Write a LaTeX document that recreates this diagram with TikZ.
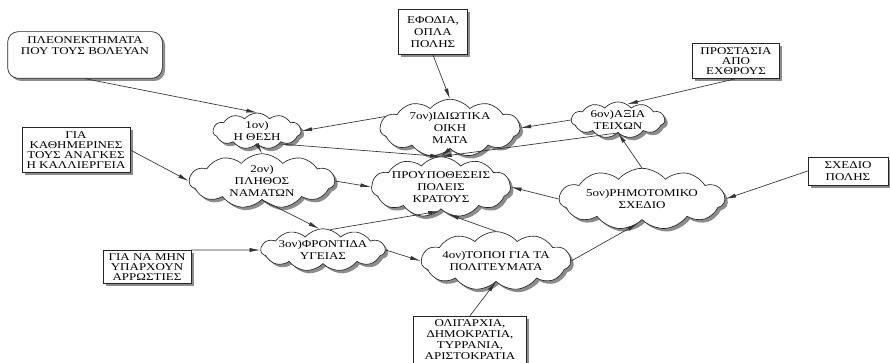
\documentclass[tikz,border=0pt]{standalone}
\usepackage{fontspec}
\setmainfont[FakeStretch=1.25]{Liberation Serif}
\usetikzlibrary{shapes.symbols,shadows,arrows.meta}

\tikzset{every picture/.style={line width=0.5pt}}
\tikzset{
  idea/.style={cloud, cloud puffs=11, cloud puff arc=100, cloud ignores aspect, draw=black!85, fill=white,
    inner sep=0pt, align=center, font=\fontsize{7.8}{9}\selectfont,
    drop shadow={shadow xshift=2.2pt, shadow yshift=-2.2pt, fill=black!45, opacity=1}},
  note/.style={rectangle, draw=black!85, fill=white, inner sep=1pt, align=center, font=\fontsize{7.8}{8.5}\selectfont,
    drop shadow={shadow xshift=2pt, shadow yshift=-2pt, fill=black!45, opacity=1}},
  link/.style={draw=black!80, -{Latex[length=8pt,width=3pt]}}
}

\begin{document}
\begin{tikzpicture}[x=0.75pt,y=0.75pt,yscale=-1,xscale=1]
\useasboundingbox (0,0) rectangle (890,363);

% Clouds
\node [idea, minimum width=66pt, minimum height=27pt] (thesi) at (257,131) {1ον)\\Η ΘΕΣΗ};
\node [idea, minimum width=105pt, minimum height=38pt] (oikimata) at (450,128) {7ον)ΙΔΙΩΤΙΚΑ\\ΟΙΚΗ\\ΜΑΤΑ};
\node [idea, minimum width=70pt, minimum height=23pt] (teixi) at (618,120) {6ον)ΑΞΙΑ\\ΤΕΙΧΩΝ};
\node [idea, minimum width=109pt, minimum height=36pt] (namata) at (262,181) {2ον)\\ΠΛΗΘΟΣ\\ΝΑΜΑΤΩΝ};
\node [idea, minimum width=104pt, minimum height=36pt] (proypo) at (441,187) {ΠΡΟΥΠΟΘΕΣΕΙΣ\\ΠΟΛΕΙΣ\\ΚΡΑΤΟΥΣ};
\node [idea, minimum width=124pt, minimum height=46pt] (sxedio) at (642,199) {5ον)ΡΗΜΟΤΟΜΙΚΟ\\ΣΧΕΔΙΟ};
\node [idea, minimum width=92pt, minimum height=26pt] (ygeia) at (323,250) {3ον)ΦΡΟΝΤΙΔΑ\\ΥΓΕΙΑΣ};
\node [idea, minimum width=111pt, minimum height=44pt] (topoi) at (496,261) {4ον)ΤΟΠΟΙ ΓΙΑ ΤΑ\\ΠΟΛΙΤΕΥΜΑΤΑ};

% Boxes
\node [note, rounded corners=8pt, minimum width=116pt, minimum height=35pt] (pleon) at (85,55) {ΠΛΕΟΝΕΚΤΗΜΑΤΑ\\ΠΟΥ ΤΟΥΣ ΒΟΛΕΥΑΝ\rule[-14pt]{0pt}{14pt}};
\node [note, font=\fontsize{7.8}{9}\selectfont, minimum width=52pt, minimum height=34pt] (efodia) at (433,32) {ΕΦΟΔΙΑ,\\ΟΠΛΑ\\ΠΟΛΗΣ};
\node [note, font=\fontsize{7.8}{7.5}\selectfont, minimum width=65pt, minimum height=26pt] (prostasia) at (736,61) {ΠΡΟΣΤΑΣΙΑ\\ΑΠΟ\\ΕΧΘΡΟΥΣ};
\node [note, font=\fontsize{7.8}{7.6}\selectfont, minimum width=81pt, minimum height=34pt] (anagkes) at (76,150) {ΓΙΑ\\ΚΑΘΗΜΕΡΙΝΕΣ\\ΤΟΥΣ ΑΝΑΓΚΕΣ\\Η ΚΑΛΛΙΕΡΓΕΙΑ};
\node [note, minimum width=60pt, minimum height=21pt] (sxediopolis) at (848,171) {ΣΧΕΔΙΟ\\ΠΟΛΗΣ};
\node [note, font=\fontsize{7.8}{7.6}\selectfont, minimum width=66pt, minimum height=25pt] (arrostia) at (147,267) {ΓΙΑ ΝΑ ΜΗΝ\\ΥΠΑΡΧΟΥΝ\\ΑΡΡΩΣΤΙΕΣ};
\node [note, font=\fontsize{7.8}{8.3}\selectfont, minimum width=85pt, minimum height=36pt] (politeymata) at (470,340) {ΟΛΙΓΑΡΧΙΑ,\\ΔΗΜΟΚΡΑΤΙΑ,\\ΤΥΡΡΑΝΙΑ,\\ΑΡΙΣΤΟΚΡΑΤΙΑ};

% Connections
\draw [link] (pleon.south) -- (thesi.north);
\draw [link] (efodia.south) -- (oikimata.north);
\draw [link] (prostasia.south) -- (teixi.60);
\draw [link] (anagkes.east) -- (namata.west);
\draw [link] (sxediopolis.west) -- (sxedio.east);
\draw [link] (arrostia.north east) -- (ygeia.west);
\draw [link] (politeymata.north) -- (topoi.south);
\draw [link] (oikimata.170) -- (thesi.east);
\draw [link] (teixi.west) -- (oikimata.east);
\draw [link] (thesi.south) -- (namata.north);
\draw [link] (thesi.-30) -- (proypo.north);
\draw [link] (oikimata.south) -- (proypo.north);
\draw [link] (teixi.south) -- (proypo.north);
\draw [link] (namata.east) -- (proypo.west);
\draw [link] (sxedio.west) -- (proypo.east);
\draw [link] (namata.south) -- (ygeia.100);
\draw [link] (ygeia.70) -- (proypo.-95);
\draw [link] (topoi.north) -- (proypo.-75);
\draw [link] (ygeia.east) -- (topoi.west);
\draw [link] (topoi.east) -- (sxedio.-100);
\draw [link] (sxedio.north) -- (teixi.south);

\end{tikzpicture}
\end{document}
